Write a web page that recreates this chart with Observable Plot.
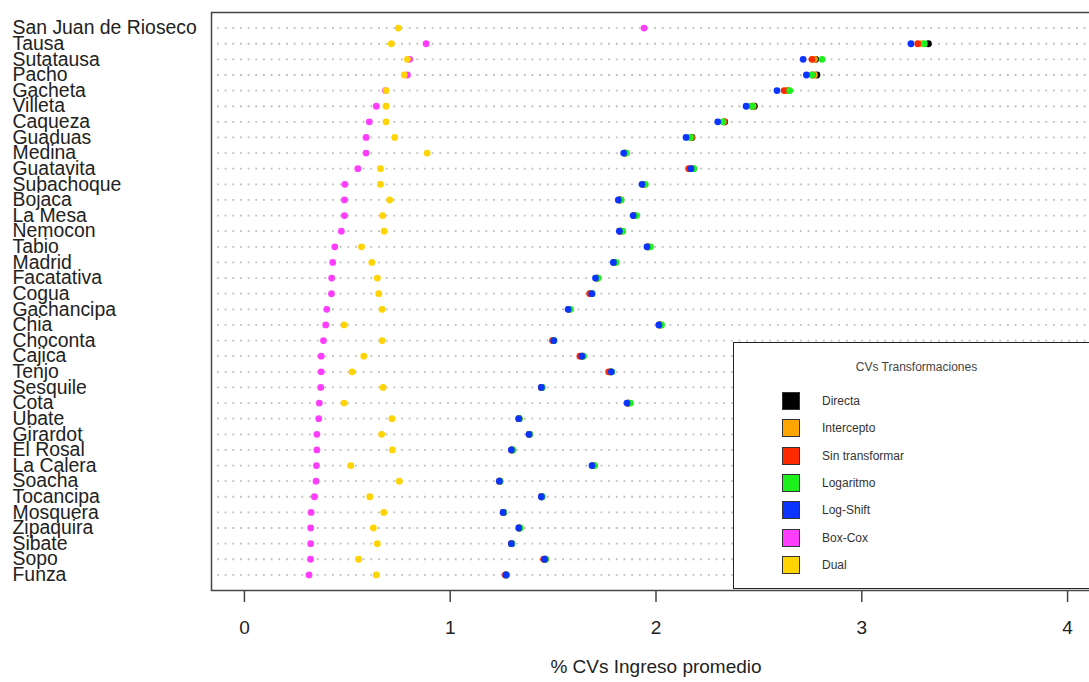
<!DOCTYPE html>
<html>
<head>
<meta charset="utf-8">
<script src="https://cdn.jsdelivr.net/npm/d3@7"></script>
<script src="https://cdn.jsdelivr.net/npm/@observablehq/plot@0.6"></script>
<style>
  html, body { margin: 0; padding: 0; background: #fff; overflow: hidden; }
  #wrap { position: relative; width: 1089px; height: 682px; overflow: hidden; font-family: "Liberation Sans", Arial, sans-serif; }
  #legend { position: absolute; left: 733px; top: 342px; width: 367px; height: 247px; border: 1.5px solid #222; background: #fff; box-sizing: border-box; }
  #legend .title { position: absolute; left: 0; width: 100%; top: 17px; text-align: center; font-size: 12px; color: #444; }
  #legend .sw { position: absolute; left: 48px; width: 18px; height: 18px; box-sizing: border-box; border: 1.5px solid #333; }
  #legend .lb { position: absolute; left: 88px; font-size: 12px; color: #333; line-height: 14px; }
</style>
</head>
<body>
<div id="wrap"></div>
<script>
const municipios = ["San Juan de Rioseco","Tausa","Sutatausa","Pacho","Gacheta","Villeta","Caqueza","Guaduas","Medina","Guatavita","Subachoque","Bojaca","La Mesa","Nemocon","Tabio","Madrid","Facatativa","Cogua","Gachancipa","Chia","Choconta","Cajica","Tenjo","Sesquile","Cota","Ubate","Girardot","El Rosal","La Calera","Soacha","Tocancipa","Mosquera","Zipaquira","Sibate","Sopo","Funza"];

const series = ["Directa","Intercepto","Sin transformar","Logaritmo","Log-Shift","Box-Cox","Dual"];
const colores = ["#000000","#ffa500","#ff2a00","#1ef01e","#0b35ff","#ff3dff","#ffd400"];

const directa        = [null,3.324,2.776,2.782,2.640,2.478,2.334,2.175,1.850,2.175,1.940,1.824,1.895,1.828,1.962,1.798,1.712,1.688,1.578,2.020,1.503,1.642,1.780,1.445,1.866,1.335,1.385,1.300,1.695,1.241,1.445,1.259,1.336,1.299,1.462,1.272];
const intercepto     = [null,3.290,2.770,2.770,2.635,2.472,2.330,2.172,1.848,2.172,1.938,1.822,1.893,1.826,1.960,1.797,1.711,1.686,1.577,2.018,1.502,1.640,1.778,1.444,1.864,1.334,1.384,1.299,1.694,1.240,1.444,1.258,1.335,1.298,1.461,1.271];
const sinTransformar = [null,3.272,2.758,2.760,2.623,2.465,2.332,2.170,1.848,2.159,1.938,1.822,1.893,1.826,1.960,1.797,1.716,1.678,1.577,2.018,1.497,1.630,1.770,1.443,1.864,1.334,1.384,1.299,1.694,1.240,1.444,1.258,1.335,1.298,1.454,1.268];
const logaritmo      = [null,3.304,2.807,2.758,2.650,2.467,2.326,2.167,1.856,2.184,1.948,1.830,1.905,1.838,1.973,1.806,1.719,1.690,1.584,2.027,1.505,1.648,1.785,1.447,1.876,1.336,1.386,1.305,1.702,1.242,1.447,1.260,1.340,1.300,1.463,1.273];
const logShift       = [null,3.239,2.715,2.731,2.588,2.438,2.300,2.146,1.843,2.170,1.932,1.817,1.889,1.822,1.956,1.793,1.706,1.688,1.573,2.014,1.503,1.640,1.783,1.443,1.859,1.333,1.383,1.297,1.689,1.239,1.443,1.257,1.333,1.297,1.459,1.271];
const boxCox         = [1.942,0.883,0.803,0.792,0.685,0.641,0.607,0.591,0.591,0.551,0.488,0.486,0.486,0.471,0.439,0.429,0.424,0.423,0.400,0.395,0.384,0.373,0.373,0.371,0.364,0.361,0.352,0.352,0.350,0.348,0.340,0.324,0.322,0.322,0.321,0.314];
const dual           = [0.748,0.714,0.792,0.777,0.688,0.688,0.688,0.730,0.888,0.661,0.661,0.706,0.672,0.679,0.569,0.619,0.646,0.653,0.669,0.484,0.669,0.580,0.523,0.674,0.484,0.717,0.667,0.719,0.517,0.753,0.609,0.677,0.627,0.646,0.555,0.641];

const xTicks = [0, 1, 2, 3, 4];
const xLabel = "% CVs Ingreso promedio";
const legendTitle = "CVs Transformaciones";

const valores = [directa, intercepto, sinTransformar, logaritmo, logShift, boxCox, dual];
const datos = [];
series.forEach((s, k) => {
  municipios.forEach((m, i) => {
    const v = valores[k][i];
    if (v != null) datos.push({municipio: m, serie: s, valor: v});
  });
});

const chart = Plot.plot({
  width: 1089,
  height: 682,
  marginLeft: 211,
  marginRight: -11,
  marginTop: 12,
  marginBottom: 92,
  style: {fontFamily: "'Liberation Sans', Arial, sans-serif", fontSize: "19px", background: "#fff", overflow: "hidden"},
  x: {domain: [-0.16, 4.16]},
  y: {domain: municipios, type: "point", padding: 1, round: false},
  color: {domain: series, range: colores},
  marks: [
    Plot.ruleY(municipios, {y: d => d, stroke: "#bdbdbd", strokeWidth: 1.8, strokeDasharray: "1.8,5.87", strokeDashoffset: -6}),
    Plot.frame({stroke: "#444", strokeWidth: 1.5}),
    Plot.dot(datos, {x: "valor", y: "municipio", fill: "serie", r: 3.4}),
    Plot.axisY({tickSize: 0, textAnchor: "start", dx: -190, fill: "#222", fontSize: 19.4, label: null}),
    Plot.axisX({ticks: xTicks, tickFormat: d3.format("d"), tickSize: 12, tickPadding: 18, stroke: "#444", strokeWidth: 1.5, fill: "#222", fontSize: 19, label: null}),
    Plot.text([xLabel], {text: d => d, frameAnchor: "bottom", dy: 82, fill: "#222", fontSize: 19})
  ]
});

const wrap = document.getElementById("wrap");
wrap.appendChild(chart);

const lg = document.createElement("div");
lg.id = "legend";
const t = document.createElement("div");
t.className = "title";
t.textContent = legendTitle;
lg.appendChild(t);
series.forEach((s, k) => {
  const top = 49 + k * 27.35;
  const sw = document.createElement("div");
  sw.className = "sw";
  sw.style.top = top + "px";
  sw.style.background = colores[k];
  lg.appendChild(sw);
  const lb = document.createElement("div");
  lb.className = "lb";
  lb.style.top = (top + 2) + "px";
  lb.textContent = s;
  lg.appendChild(lb);
});
wrap.appendChild(lg);
</script>
</body>
</html>
